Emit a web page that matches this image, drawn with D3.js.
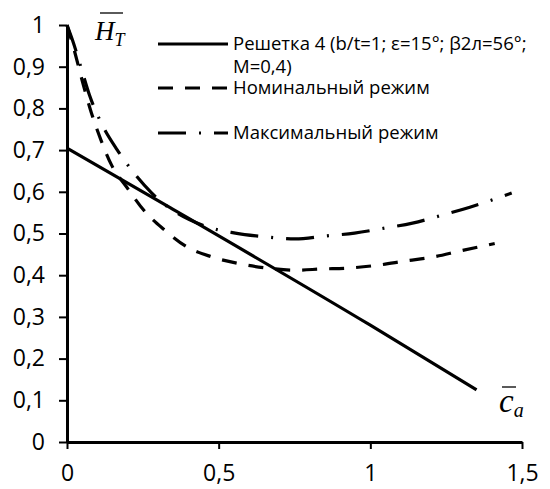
<!DOCTYPE html>
<html>
<head>
<meta charset="utf-8">
<script src="https://cdn.jsdelivr.net/npm/d3@7"></script>
<style>
  body { margin: 0; background: #fff; }
  svg { display: block; }
  .tick text { font-family: "Open Sans", sans-serif; fill: #000; }
</style>
</head>
<body>
<script>
var width = 550, height = 489;

// Решетка 4 (solid)
var solidX = [0, 0.34, 1.0, 1.35];
var solidY = [0.705, 0.562, 0.28, 0.125];

// Номинальный режим (dashed)
var nomX = [0, 0.02, 0.054, 0.081, 0.112, 0.147, 0.196, 0.254, 0.319, 0.395, 0.477, 0.572, 0.663, 0.752, 0.843, 0.925, 1.024, 1.115, 1.21, 1.295, 1.384, 1.41];
var nomY = [1, 0.95, 0.856, 0.788, 0.724, 0.664, 0.612, 0.555, 0.51, 0.468, 0.444, 0.427, 0.417, 0.412, 0.415, 0.417, 0.424, 0.434, 0.444, 0.458, 0.472, 0.476];

// Максимальный режим (dash-dot)
var maxX = [0, 0.018, 0.047, 0.074, 0.115, 0.166, 0.224, 0.278, 0.454, 0.555, 0.654, 0.752, 0.85, 0.948, 1.047, 1.139, 1.237, 1.328, 1.466];
var maxY = [1, 0.964, 0.896, 0.832, 0.762, 0.7, 0.642, 0.598, 0.518, 0.501, 0.492, 0.487, 0.494, 0.501, 0.513, 0.525, 0.544, 0.563, 0.597];

var xTicks = [0, 0.5, 1, 1.5];
var yTicks = [0, 0.1, 0.2, 0.3, 0.4, 0.5, 0.6, 0.7, 0.8, 0.9, 1];

var legendLabels = [
  ["Решетка 4 (b/t=1; ε=15°; β2л=56°;", "M=0,4)"],
  ["Номинальный режим"],
  ["Максимальный режим"]
];

var svg = d3.select("body").append("svg")
    .attr("width", width)
    .attr("height", height);

var x = d3.scaleLinear().domain([0, 1.5]).range([67, 522]);
var y = d3.scaleLinear().domain([0, 1]).range([442, 25]);

var fmt = function(d) { return String(d).replace(".", ","); };

// axes
var yAxis = svg.append("g")
    .attr("transform", "translate(" + x(0) + ",0)")
    .call(d3.axisLeft(y).tickValues(yTicks).tickFormat(fmt).tickSize(8).tickSizeOuter(0).tickPadding(14));
var xAxis = svg.append("g")
    .attr("transform", "translate(0," + y(0) + ")")
    .call(d3.axisBottom(x).tickValues(xTicks).tickFormat(fmt).tickSize(7).tickSizeOuter(0).tickPadding(16));

[yAxis, xAxis].forEach(function(a) {
  a.select(".domain").attr("stroke", "#000").attr("stroke-width", 3);
  a.selectAll(".tick line").attr("stroke", "#000").attr("stroke-width", 2);
  a.selectAll(".tick text").style("font-size", "23px");
});

// curves
var line = d3.line()
    .x(function(d) { return x(d[0]); })
    .y(function(d) { return y(d[1]); })
    .curve(d3.curveMonotoneX);

var series = [
  { xs: solidX, ys: solidY, dash: null },
  { xs: nomX, ys: nomY, dash: "15,12" },
  { xs: maxX, ys: maxY, dash: "28,13,2,13" }
];

svg.selectAll(".curve")
  .data(series)
  .enter()
  .append("path")
  .attr("class", "curve")
  .attr("fill", "none")
  .attr("stroke", "#000")
  .attr("stroke-width", 3.2)
  .attr("stroke-dasharray", function(d) { return d.dash; })
  .attr("d", function(d) { return line(d.xs.map(function(v, i) { return [v, d.ys[i]]; })); });

// legend
var legendY = [44, 88, 133];
var leg = svg.selectAll(".legend")
  .data(series)
  .enter()
  .append("g")
  .attr("class", "legend")
  .attr("transform", function(d, i) { return "translate(0," + legendY[i] + ")"; });

leg.append("line")
  .attr("x1", 158).attr("x2", 228)
  .attr("stroke", "#000")
  .attr("stroke-width", 3.2)
  .attr("stroke-dasharray", function(d) { return d.dash; });

leg.each(function(d, i) {
  var t = d3.select(this).append("text")
    .attr("x", 233)
    .attr("y", 6)
    .style("font-family", "'Open Sans', sans-serif")
    .style("font-size", "18.5px");
  legendLabels[i].forEach(function(s, k) {
    t.append("tspan").attr("x", 233).attr("dy", k === 0 ? 0 : 23).text(s);
  });
});

// axis titles
var ht = svg.append("text")
    .attr("x", 95).attr("y", 40)
    .style("font-family", "'Liberation Serif', serif")
    .style("font-style", "italic")
    .style("font-size", "27px");
ht.append("tspan").text("H");
ht.append("tspan").attr("dy", 6).style("font-size", "18px").text("T");
svg.append("line").attr("x1", 100).attr("x2", 123).attr("y1", 13).attr("y2", 13)
    .attr("stroke", "#000").attr("stroke-width", 1.3);

var ct = svg.append("text")
    .attr("x", 499).attr("y", 412)
    .style("font-family", "'Liberation Serif', serif")
    .style("font-style", "italic")
    .style("font-size", "33px");
ct.append("tspan").text("c");
ct.append("tspan").attr("dy", 5).style("font-size", "20px").text("a");
svg.append("line").attr("x1", 502).attr("x2", 516).attr("y1", 387).attr("y2", 387)
    .attr("stroke", "#000").attr("stroke-width", 1.3);
</script>
</body>
</html>
